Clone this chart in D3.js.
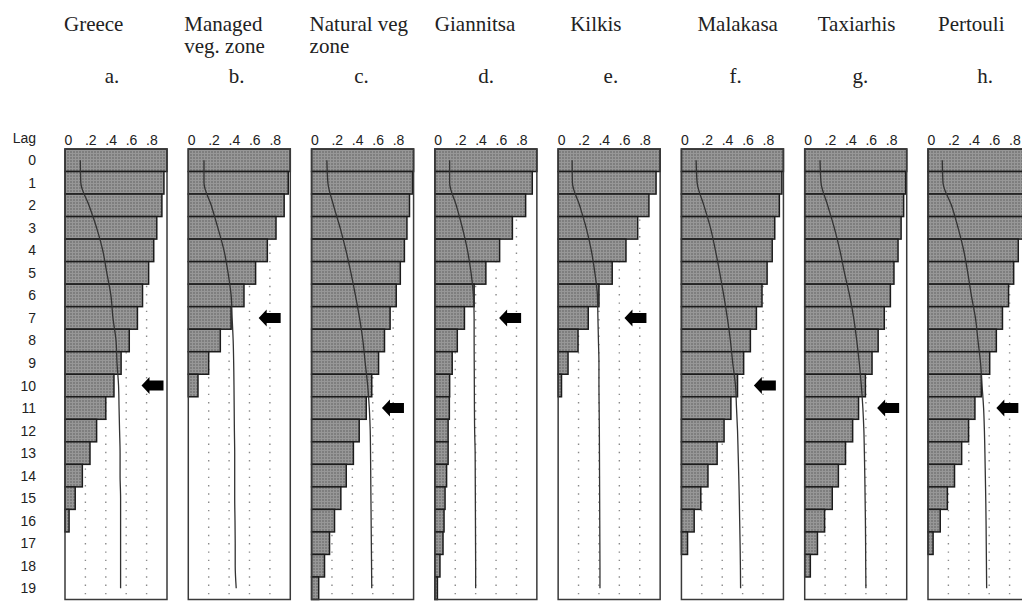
<!DOCTYPE html>
<html>
<head>
<meta charset="utf-8">
<script src="https://cdn.jsdelivr.net/npm/d3@7"></script>
<style>
  html, body { margin: 0; padding: 0; background: #fff; }
  svg { display: block; }
</style>
</head>
<body>
<svg id="chart" width="1022" height="602"></svg>
<script>
// lags and panel labels
const lags = [0, 1, 2, 3, 4, 5, 6, 7, 8, 9, 10, 11, 12, 13, 14, 15, 16, 17, 18, 19];
const titles = [
  ["Greece"], ["Managed", "veg. zone"], ["Natural veg", "zone"], ["Giannitsa"],
  ["Kilkis"], ["Malakasa"], ["Taxiarhis"], ["Pertouli"]
];
const letters = ["a.", "b.", "c.", "d.", "e.", "f.", "g.", "h."];
const ticks = [0, 0.2, 0.4, 0.6, 0.8];
const tickLabels = ["0", ".2", ".4", ".6", ".8"];

// autocorrelation per lag (bars)
const acfGreece    = [1.00, 0.97, 0.95, 0.90, 0.87, 0.82, 0.76, 0.71, 0.63, 0.55, 0.48, 0.40, 0.31, 0.245, 0.17, 0.10, 0.04, 0, 0, 0];
const acfManaged   = [1.00, 0.98, 0.94, 0.86, 0.775, 0.66, 0.546, 0.42, 0.314, 0.20, 0.095, 0, 0, 0, 0, 0, 0, 0, 0, 0];
const acfNatural   = [1.00, 0.99, 0.96, 0.935, 0.91, 0.87, 0.83, 0.77, 0.715, 0.657, 0.59, 0.536, 0.467, 0.41, 0.34, 0.287, 0.225, 0.176, 0.127, 0.07];
const acfGiannitsa = [1.00, 0.955, 0.89, 0.76, 0.635, 0.50, 0.385, 0.29, 0.22, 0.17, 0.145, 0.142, 0.13, 0.13, 0.115, 0.10, 0.09, 0.08, 0.05, 0.025];
const acfKilkis    = [1.00, 0.96, 0.89, 0.78, 0.665, 0.53, 0.40, 0.295, 0.195, 0.097, 0.033, 0, 0, 0, 0, 0, 0, 0, 0, 0];
const acfMalakasa  = [1.00, 0.985, 0.96, 0.915, 0.89, 0.84, 0.79, 0.735, 0.676, 0.61, 0.55, 0.485, 0.418, 0.35, 0.26, 0.19, 0.125, 0.06, 0, 0];
const acfTaxiarhis = [1.00, 0.99, 0.97, 0.945, 0.915, 0.875, 0.84, 0.78, 0.72, 0.66, 0.595, 0.528, 0.47, 0.40, 0.33, 0.27, 0.195, 0.125, 0.055, 0];
const acfPertouli  = [1.00, 0.99, 0.97, 0.94, 0.885, 0.84, 0.79, 0.73, 0.67, 0.605, 0.523, 0.46, 0.398, 0.33, 0.26, 0.19, 0.12, 0.05, 0, 0];

// confidence bound per lag (line)
const bndGreece    = [0.15, 0.155, 0.235, 0.31, 0.37, 0.41, 0.45, 0.47, 0.50, 0.51, 0.525, 0.53, 0.535, 0.54, 0.54, 0.545, 0.545, 0.545, 0.545, 0.545];
const bndManaged   = [0.154, 0.154, 0.225, 0.29, 0.35, 0.39, 0.42, 0.43, 0.44, 0.445, 0.448, 0.45, 0.452, 0.455, 0.455, 0.455, 0.458, 0.46, 0.46, 0.47];
const bndNatural   = [0.15, 0.16, 0.215, 0.28, 0.337, 0.386, 0.43, 0.47, 0.503, 0.526, 0.55, 0.566, 0.575, 0.578, 0.58, 0.582, 0.584, 0.586, 0.588, 0.59];
const bndGiannitsa = [0.145, 0.145, 0.21, 0.27, 0.32, 0.355, 0.378, 0.385, 0.385, 0.386, 0.387, 0.388, 0.39, 0.395, 0.396, 0.397, 0.398, 0.399, 0.40, 0.40];
const bndKilkis    = [0.137, 0.14, 0.21, 0.275, 0.325, 0.36, 0.385, 0.39, 0.395, 0.40, 0.40, 0.402, 0.404, 0.405, 0.406, 0.407, 0.408, 0.409, 0.41, 0.41];
const bndMalakasa  = [0.144, 0.154, 0.22, 0.285, 0.333, 0.376, 0.415, 0.45, 0.48, 0.503, 0.53, 0.54, 0.55, 0.556, 0.562, 0.567, 0.571, 0.575, 0.578, 0.58];
const bndTaxiarhis = [0.15, 0.16, 0.225, 0.29, 0.345, 0.39, 0.44, 0.48, 0.51, 0.535, 0.555, 0.57, 0.58, 0.585, 0.589, 0.592, 0.595, 0.597, 0.598, 0.60];
const bndPertouli  = [0.14, 0.147, 0.23, 0.295, 0.35, 0.39, 0.425, 0.465, 0.49, 0.515, 0.53, 0.545, 0.553, 0.558, 0.562, 0.566, 0.569, 0.571, 0.573, 0.575];

// arrow annotation: lag row and value at the arrow tip
const arrowLag = [10, 7, 11, 7, 7, 10, 11, 11];
const arrowTip = [0.75, 0.69, 0.69, 0.63, 0.65, 0.71, 0.71, 0.67];

const acfs = [acfGreece, acfManaged, acfNatural, acfGiannitsa, acfKilkis, acfMalakasa, acfTaxiarhis, acfPertouli];
const bounds = [bndGreece, bndManaged, bndNatural, bndGiannitsa, bndKilkis, bndMalakasa, bndTaxiarhis, bndPertouli];

// layout
const titleDx = [-1, -4, -2, 0, 12, 16, 13, 10];
const panelWidth = 102;
const serif = "'Liberation Serif', 'Times New Roman', serif";
const sans = "'Liberation Sans', Arial, sans-serif";

const svg = d3.select("#chart");

const defs = svg.append("defs");
const pat = defs.append("pattern")
  .attr("id", "barfill")
  .attr("patternUnits", "userSpaceOnUse")
  .attr("width", 3)
  .attr("height", 3);
pat.append("rect").attr("width", 3).attr("height", 3).attr("fill", "#7e7e7e");
pat.append("rect").attr("width", 3).attr("height", 1).attr("fill", "#979797");
pat.append("rect").attr("width", 1).attr("height", 3).attr("fill", "#979797");

const panelX = d3.scaleLinear().domain([0, 7]).range([65, 928]);
const letterX = d3.scaleLinear().domain([0, 7]).range([112, 985]);

const y = d3.scaleBand().domain(lags).range([149, 599.5]).padding(0);

// lag labels on the left
svg.append("text")
  .attr("x", 36).attr("y", 143)
  .attr("text-anchor", "end")
  .attr("font-family", sans).attr("font-size", 14)
  .attr("fill", "#222")
  .text("Lag");

svg.append("g").selectAll("text")
  .data(lags)
  .enter()
  .append("text")
  .attr("x", 36)
  .attr("y", (d) => y(d) + y.bandwidth() / 2 + 5)
  .attr("text-anchor", "end")
  .attr("font-family", sans).attr("font-size", 14)
  .attr("fill", "#222")
  .text((d) => d);

acfs.forEach((acf, i) => {
  const left = panelX(i);
  const x = d3.scaleLinear().domain([0, 1]).range([left, left + panelWidth]);
  const g = svg.append("g");

  // title and letter
  const t = g.append("text")
    .attr("font-family", serif).attr("font-size", 21)
    .attr("fill", "#222");
  titles[i].forEach((line, k) => {
    t.append("tspan")
      .attr("x", left + titleDx[i])
      .attr("y", 31 + k * 22)
      .text(line);
  });
  g.append("text")
    .attr("x", letterX(i)).attr("y", 83)
    .attr("text-anchor", "middle")
    .attr("font-family", serif).attr("font-size", 21)
    .attr("fill", "#222")
    .text(letters[i]);

  // tick labels
  g.append("g").selectAll("text")
    .data(ticks)
    .enter()
    .append("text")
    .attr("x", (d) => x(d) - 0.5)
    .attr("y", 145)
    .attr("font-family", sans).attr("font-size", 14)
    .attr("fill", "#222")
    .text((d, k) => tickLabels[k]);

  // dotted gridlines
  g.append("g").selectAll("line")
    .data(ticks.slice(1))
    .enter()
    .append("line")
    .attr("x1", (d) => x(d)).attr("x2", (d) => x(d))
    .attr("y1", y.range()[0] + 4).attr("y2", y.range()[1])
    .attr("stroke", "#8a8a8a")
    .attr("stroke-width", 1.4)
    .attr("stroke-dasharray", "1.4,6.9");

  // bars
  g.append("g").selectAll("rect")
    .data(lags.filter((l) => acf[l] > 0))
    .enter()
    .append("rect")
    .attr("x", x(0))
    .attr("y", (d) => y(d))
    .attr("width", (d) => x(acf[d]) - x(0))
    .attr("height", y.bandwidth())
    .attr("fill", "url(#barfill)")
    .attr("stroke", "#1c1c1c")
    .attr("stroke-width", 1.5);

  // confidence bound line
  const line = d3.line()
    .x((d) => x(bounds[i][d]))
    .y((d) => y(d) + y.bandwidth() / 2)
    .curve(d3.curveMonotoneY);
  g.append("path")
    .datum(lags)
    .attr("d", line)
    .attr("fill", "none")
    .attr("stroke", "#333")
    .attr("stroke-width", 1.3);

  // frame
  g.append("rect")
    .attr("x", x(0)).attr("y", y.range()[0])
    .attr("width", panelWidth).attr("height", y.range()[1] - y.range()[0])
    .attr("fill", "none")
    .attr("stroke", "#3a3a3a")
    .attr("stroke-width", 1.5);

  // arrow
  const tipX = x(arrowTip[i]);
  const cy = y(arrowLag[i]) + y.bandwidth() / 2;
  g.append("path")
    .attr("d", `M${tipX},${cy} L${tipX + 8},${cy - 8.5} L${tipX + 8},${cy - 5} L${tipX + 22},${cy - 5} L${tipX + 22},${cy + 5} L${tipX + 8},${cy + 5} L${tipX + 8},${cy + 8.5} Z`)
    .attr("fill", "#000");
});
</script>
</body>
</html>
